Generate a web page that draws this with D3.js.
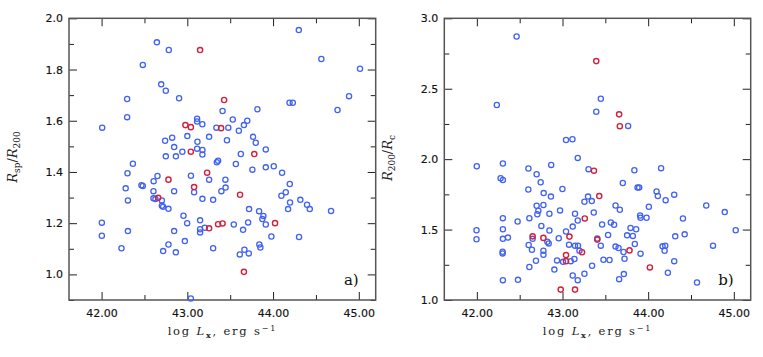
<!DOCTYPE html>
<html>
<head>
<meta charset="utf-8">
<script src="https://cdn.jsdelivr.net/npm/d3@7"></script>
<style>
  body { margin: 0; background: #fff; }
  svg { display: block; }
  .tick text { font-family: "DejaVu Sans", sans-serif; font-size: 11px; fill: #111; stroke: #111; stroke-width: 0.15px; }
  .tick line { stroke: #222; }
  .domain { display: none; }
</style>
</head>
<body>
<div id="svg-container"></div>
<script>
////////////////////////////  Data  ////////////////////////////////

// panel a) : log Lx vs Rsp/R200
const aBlue = [
  [44.30,1.954],[42.645,1.906],[42.784,1.876],[44.563,1.841],[42.481,1.818],[45.014,1.803],
  [42.695,1.742],[42.749,1.717],[44.886,1.696],[42.298,1.685],[42.904,1.688],[44.192,1.670],
  [44.230,1.670],[44.752,1.642],[43.411,1.638],[43.817,1.645],[42.298,1.614],[43.114,1.608],
  [43.114,1.597],[43.530,1.605],[43.699,1.600],[43.175,1.586],[43.660,1.583],[42.007,1.573],
  [43.339,1.573],[43.478,1.573],[43.601,1.561],[43.000,1.540],[43.254,1.537],[42.823,1.534],
  [43.767,1.537],[42.741,1.522],[43.118,1.518],[43.176,1.486],[43.176,1.468],[43.114,1.491],
  [43.462,1.524],[43.798,1.514],[43.915,1.488],[43.624,1.470],[42.846,1.497],[42.942,1.479],
  [42.749,1.461],[42.867,1.461],[43.344,1.438],[43.359,1.444],[43.566,1.431],[43.915,1.418],
  [44.008,1.422],[43.759,1.409],[44.105,1.397],[42.365,1.432],[42.302,1.395],[42.652,1.384],
  [42.607,1.364],[43.042,1.385],[43.254,1.370],[43.444,1.370],[43.446,1.339],[43.397,1.325],
  [42.465,1.348],[42.481,1.345],[42.281,1.336],[42.307,1.289],[42.605,1.325],[42.605,1.297],
  [42.628,1.294],[42.703,1.289],[42.703,1.268],[42.718,1.264],[42.780,1.256],[42.846,1.325],
  [43.079,1.321],[43.176,1.295],[43.301,1.291],[44.195,1.353],[44.148,1.321],[44.097,1.307],
  [44.198,1.281],[44.175,1.255],[44.318,1.291],[44.396,1.272],[44.428,1.255],[44.676,1.248],
  [43.720,1.255],[43.837,1.247],[43.887,1.228],[43.875,1.216],[43.915,1.195],[43.542,1.195],
  [43.709,1.203],[43.650,1.174],[43.980,1.148],[44.303,1.146],[43.840,1.117],[43.852,1.105],
  [43.666,1.096],[43.612,1.078],[43.717,1.082],[42.003,1.202],[42.003,1.151],[42.307,1.169],
  [42.232,1.102],[42.955,1.229],[42.998,1.200],[42.846,1.169],[42.780,1.117],[42.718,1.091],
  [42.866,1.086],[42.971,1.130],[43.149,1.211],[43.149,1.176],[43.149,1.164],[43.204,1.182],
  [43.301,1.102],[43.041,0.906]
];
const aRed = [
  [43.149,1.876],[43.429,1.681],[42.978,1.583],[43.041,1.575],[43.394,1.571],[43.041,1.479],
  [43.781,1.470],[42.780,1.370],[43.231,1.397],[43.079,1.341],[42.660,1.299],[43.254,1.180],
  [43.359,1.196],[43.411,1.199],[44.023,1.200],[43.660,1.010],[43.615,1.311]
];

// panel b) : log Lx vs R200/Rc
const bBlue = [
  [42.464,2.871],[42.233,2.384],[43.447,2.429],[43.394,2.337],[43.766,2.236],[43.041,2.136],
  [43.116,2.141],[43.178,2.009],[41.999,1.950],[42.304,1.969],[42.602,1.934],[42.868,1.959],
  [43.304,1.929],[43.839,1.921],[44.151,1.936],[42.698,1.893],[42.277,1.864],[42.304,1.852],
  [42.745,1.836],[42.601,1.784],[42.780,1.759],[42.999,1.788],[42.865,1.734],[42.698,1.669],
  [42.777,1.674],[42.718,1.634],[42.706,1.609],[42.847,1.612],[42.971,1.636],[42.304,1.581],
  [42.613,1.581],[42.476,1.557],[42.753,1.526],[43.119,1.521],[43.178,1.564],[43.146,1.612],
  [43.298,1.734],[43.256,1.698],[43.342,1.702],[43.365,1.621],[41.996,1.495],[41.996,1.431],
  [42.304,1.502],[42.304,1.434],[42.363,1.443],[42.651,1.434],[42.847,1.493],[42.823,1.414],
  [42.839,1.402],[42.956,1.438],[43.041,1.486],[42.605,1.391],[42.643,1.357],[42.777,1.350],
  [42.777,1.321],[43.076,1.393],[43.146,1.386],[43.181,1.386],[43.198,1.350],[42.301,1.343],
  [42.301,1.331],[42.690,1.279],[42.613,1.234],[42.905,1.216],[42.936,1.281],[43.006,1.271],
  [43.096,1.276],[43.139,1.291],[43.345,1.243],[43.256,1.186],[43.119,1.174],[43.178,1.141],
  [42.304,1.141],[42.480,1.143],[43.704,1.831],[43.876,1.798],[43.895,1.798],[44.098,1.771],
  [44.113,1.738],[44.204,1.709],[44.304,1.748],[43.619,1.671],[43.669,1.641],[44.008,1.662],
  [43.906,1.600],[43.911,1.584],[43.981,1.584],[44.406,1.579],[44.678,1.671],[44.894,1.624],
  [45.022,1.495],[43.462,1.536],[43.564,1.550],[43.602,1.534],[43.794,1.512],[43.860,1.502],
  [43.532,1.462],[43.754,1.459],[43.821,1.455],[43.447,1.386],[43.619,1.379],[43.654,1.369],
  [43.844,1.398],[43.712,1.341],[43.911,1.329],[44.168,1.381],[44.199,1.386],[44.192,1.350],
  [44.316,1.452],[44.426,1.466],[44.757,1.386],[43.478,1.286],[43.549,1.284],[43.724,1.293],
  [44.304,1.276],[43.716,1.184],[43.661,1.148],[44.230,1.193],[44.570,1.124],[43.406,1.436]
];
const bRed = [
  [43.394,2.696],[43.661,2.318],[43.669,2.234],[43.367,1.918],[43.429,1.738],[43.260,1.579],
  [42.651,1.452],[42.777,1.441],[43.081,1.450],[43.406,1.429],[43.228,1.339],[43.782,1.352],
  [43.041,1.319],[43.041,1.276],[42.979,1.074],[43.146,1.074],[44.020,1.231]
];

// ticks
const xMajor = [42, 43, 44, 45];
const xMinor = [42.5, 43.5, 44.5];
const aYMajor = [1.0, 1.2, 1.4, 1.6, 1.8, 2.0];
const aYMinor = [0.9, 1.1, 1.3, 1.5, 1.7, 1.9];
const bYMajor = [1.0, 1.5, 2.0, 2.5, 3.0];
const bYMinor = [1.25, 1.75, 2.25, 2.75];

////////////////////////////  Init  ////////////////////////////////

const width = 763;
const height = 357;
const svg = d3.select("#svg-container").append("svg")
  .attr("width", width).attr("height", height);

const blue = "#4262f4";
const red = "#d3203c";
const fmtX = d3.format(".2f");
const fmtY = d3.format(".1f");

const panels = [
  { left: 69, right: 375.7, top: 18.3, bottom: 300, ydom: [0.9, 2.0],
    yMajor: aYMajor, yMinor: aYMinor, blueData: aBlue, redData: aRed,
    tag: "a)", ySub1: "sp", ySub2: "200", yLabelY: 157 },
  { left: 444.3, right: 750.7, top: 18.3, bottom: 300, ydom: [1.0, 3.0],
    yMajor: bYMajor, yMinor: bYMinor, blueData: bBlue, redData: bRed,
    tag: "b)", ySub1: "200", ySub2: "c", yLabelY: 158 }
];

panels.forEach((p) => {
  const xScale = d3.scaleLinear().domain([41.62, 45.197]).range([p.left, p.right]);
  const yScale = d3.scaleLinear().domain(p.ydom).range([p.bottom, p.top]);
  const g = svg.append("g");

  // axes, ticks inward on all four sides
  const addAxis = (axis, tx, ty) => g.append("g")
    .attr("transform", `translate(${tx},${ty})`).call(axis);

  addAxis(d3.axisBottom(xScale).tickValues(xMinor).tickSize(-5).tickFormat(""), 0, p.bottom);
  addAxis(d3.axisBottom(xScale).tickValues(xMajor).tickSize(-8).tickPadding(9)
    .tickFormat(fmtX), 0, p.bottom);
  addAxis(d3.axisTop(xScale).tickValues(xMinor).tickSize(-5).tickFormat(""), 0, p.top);
  addAxis(d3.axisTop(xScale).tickValues(xMajor).tickSize(-8).tickFormat(""), 0, p.top);

  addAxis(d3.axisLeft(yScale).tickValues(p.yMinor).tickSize(-5).tickFormat(""), p.left, 0);
  addAxis(d3.axisLeft(yScale).tickValues(p.yMajor).tickSize(-8).tickPadding(6)
    .tickFormat(fmtY), p.left, 0);
  addAxis(d3.axisRight(yScale).tickValues(p.yMinor).tickSize(-5).tickFormat(""), p.right, 0);
  addAxis(d3.axisRight(yScale).tickValues(p.yMajor).tickSize(-8).tickFormat(""), p.right, 0);

  // frame
  g.append("rect")
    .attr("x", p.left).attr("y", p.top)
    .attr("width", p.right - p.left).attr("height", p.bottom - p.top)
    .attr("fill", "none").attr("stroke", "#555").attr("stroke-width", 1.5);

  // points
  g.selectAll(".pb").data(p.blueData).enter().append("circle")
    .attr("cx", (d) => xScale(d[0])).attr("cy", (d) => yScale(d[1]))
    .attr("r", 2.6).attr("fill", "none").attr("stroke", blue).attr("stroke-width", 1.3);
  g.selectAll(".pr").data(p.redData).enter().append("circle")
    .attr("cx", (d) => xScale(d[0])).attr("cy", (d) => yScale(d[1]))
    .attr("r", 2.6).attr("fill", "none").attr("stroke", red).attr("stroke-width", 1.4);

  // panel tag
  g.append("text")
    .attr("x", p.right - 17).attr("y", p.bottom - 15)
    .attr("text-anchor", "end")
    .style("font-family", "'DejaVu Serif', serif").style("font-size", "15px")
    .attr("fill", "#111").text(p.tag);

  // x title
  const cx = (p.left + p.right) / 2;
  const xt = g.append("text")
    .attr("x", cx).attr("y", 335).attr("text-anchor", "middle")
    .style("font-family", "'DejaVu Serif', serif").style("font-size", "11.5px")
    .style("letter-spacing", "1.8px").attr("fill", "#222");
  xt.append("tspan").text("log ");
  xt.append("tspan").style("font-style", "italic").text("L");
  xt.append("tspan").attr("dy", 2.5).style("font-size", "8px").style("font-weight", "bold").text("x");
  xt.append("tspan").attr("dy", -2.5).text(", erg s");
  xt.append("tspan").attr("dy", -4).style("font-size", "8px").text("−1");

  // y title
  const yt = g.append("text")
    .attr("transform", `translate(${p.left - 52},${p.yLabelY}) rotate(-90)`)
    .attr("text-anchor", "middle")
    .style("font-family", "'DejaVu Serif', serif").style("font-size", "13px")
    .attr("fill", "#222");
  yt.append("tspan").style("font-style", "italic").text("R");
  yt.append("tspan").attr("dy", 3).style("font-size", "9px").text(p.ySub1);
  yt.append("tspan").attr("dy", -3).text("/");
  yt.append("tspan").style("font-style", "italic").text("R");
  yt.append("tspan").attr("dy", 3).style("font-size", "9px").text(p.ySub2);
});
</script>
</body>
</html>
